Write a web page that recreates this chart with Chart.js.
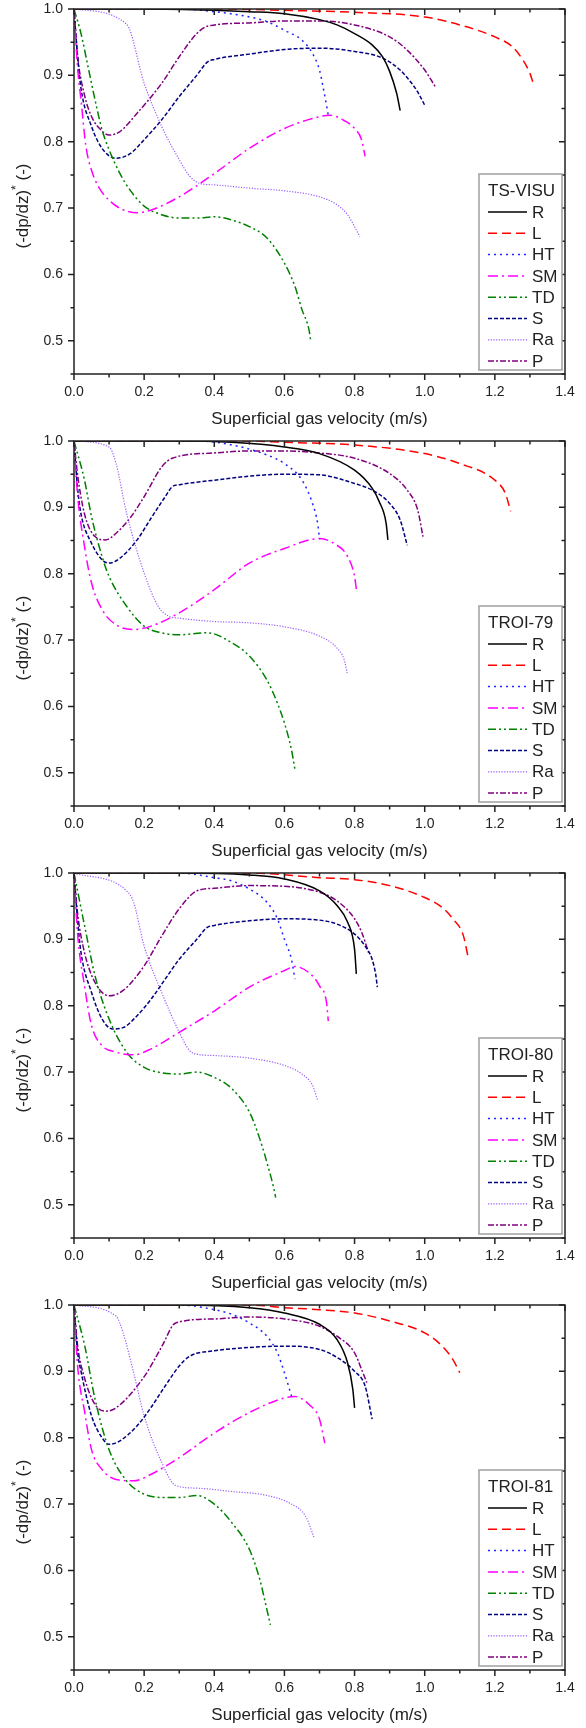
<!DOCTYPE html>
<html>
<head>
<meta charset="utf-8">
<script src="https://cdn.jsdelivr.net/npm/chart.js@4.4.1/dist/chart.umd.min.js"></script>
<style>
  body { margin: 0; background: #fff; }
  .panel { width: 586px; height: 432px; }
</style>
</head>
<body>
<div class="panel"><canvas id="c0" width="586" height="432"></canvas></div>
<div class="panel"><canvas id="c1" width="586" height="432"></canvas></div>
<div class="panel"><canvas id="c2" width="586" height="432"></canvas></div>
<div class="panel"><canvas id="c3" width="586" height="432"></canvas></div>
<script>
// series and panel names
const seriesNames = ['R', 'L', 'HT', 'SM', 'TD', 'S', 'Ra', 'P'];
const panelTitles = ['TS-VISU', 'TROI-79', 'TROI-80', 'TROI-81'];
const xTickVals = [0, 0.2, 0.4, 0.6, 0.8, 1.0, 1.2, 1.4];
const yTickVals = [0.5, 0.6, 0.7, 0.8, 0.9, 1.0];
const xTitle = 'Superficial gas velocity (m/s)';

// TS-VISU  [velocity, (-dp/dz)*]
const tsVisu_R = [[0,1],[0.2,1],[0.4,0.998],[0.5,0.996],[0.6,0.993],[0.7,0.984],[0.75,0.976],[0.8,0.963],[0.85,0.946],[0.88,0.928],[0.9,0.906],[0.92,0.873],[0.93,0.847]];
const tsVisu_L = [[0,1],[0.4,1],[0.6,0.998],[0.8,0.995],[1.0,0.988],[1.1,0.976],[1.2,0.958],[1.25,0.943],[1.28,0.923],[1.3,0.903],[1.31,0.887]];
const tsVisu_HT = [[0,1],[0.3,1],[0.4,0.996],[0.5,0.988],[0.55,0.981],[0.6,0.968],[0.65,0.953],[0.68,0.933],[0.7,0.908],[0.71,0.883],[0.72,0.855],[0.725,0.84]];
const tsVisu_SM = [[0,1],[0.01,0.913],[0.02,0.863],[0.034,0.793],[0.05,0.757],[0.07,0.732],[0.1,0.712],[0.13,0.7],[0.18,0.693],[0.22,0.697],[0.3,0.717],[0.4,0.752],[0.5,0.79],[0.6,0.82],[0.68,0.835],[0.73,0.84],[0.77,0.832],[0.8,0.82],[0.82,0.803],[0.83,0.778]];
const tsVisu_TD = [[0,1],[0.02,0.963],[0.04,0.913],[0.06,0.863],[0.08,0.818],[0.1,0.788],[0.13,0.753],[0.16,0.727],[0.2,0.703],[0.25,0.69],[0.3,0.685],[0.35,0.685],[0.4,0.687],[0.45,0.682],[0.5,0.672],[0.55,0.655],[0.6,0.617],[0.63,0.582],[0.65,0.547],[0.67,0.517],[0.675,0.5]];
const tsVisu_S = [[0,1],[0.01,0.93],[0.02,0.88],[0.05,0.823],[0.08,0.79],[0.12,0.775],[0.16,0.782],[0.2,0.803],[0.25,0.833],[0.3,0.868],[0.35,0.9],[0.38,0.92],[0.4,0.924],[0.5,0.932],[0.6,0.939],[0.7,0.941],[0.8,0.936],[0.88,0.926],[0.93,0.908],[0.96,0.89],[0.98,0.875],[1.0,0.855]];
const tsVisu_Ra = [[0,1],[0.15,0.977],[0.2,0.888],[0.25,0.823],[0.3,0.773],[0.33,0.748],[0.36,0.737],[0.4,0.735],[0.5,0.73],[0.6,0.726],[0.7,0.717],[0.75,0.705],[0.78,0.69],[0.8,0.672],[0.815,0.657]];
const tsVisu_P = [[0,1],[0.01,0.93],[0.03,0.87],[0.05,0.838],[0.08,0.816],[0.1,0.81],[0.13,0.815],[0.18,0.843],[0.25,0.888],[0.3,0.928],[0.35,0.963],[0.38,0.974],[0.5,0.979],[0.6,0.982],[0.7,0.982],[0.8,0.976],[0.9,0.958],[0.95,0.938],[1.0,0.908],[1.03,0.883]];

// TROI-79
const troi79_R = [[0,1],[0.3,1],[0.45,0.998],[0.6,0.991],[0.7,0.981],[0.8,0.956],[0.85,0.929],[0.87,0.909],[0.89,0.876],[0.895,0.851]];
const troi79_L = [[0,1],[0.5,1],[0.6,0.998],[0.8,0.994],[1.0,0.981],[1.1,0.966],[1.2,0.941],[1.23,0.921],[1.245,0.894]];
const troi79_HT = [[0,1],[0.35,1],[0.45,0.994],[0.55,0.979],[0.6,0.966],[0.65,0.941],[0.68,0.906],[0.695,0.875],[0.7,0.852]];
const troi79_SM = [[0,1],[0.01,0.92],[0.03,0.841],[0.05,0.786],[0.08,0.746],[0.12,0.723],[0.17,0.716],[0.22,0.721],[0.3,0.741],[0.4,0.776],[0.5,0.816],[0.6,0.838],[0.7,0.853],[0.74,0.846],[0.78,0.826],[0.8,0.796],[0.805,0.777]];
const troi79_TD = [[0,1],[0.03,0.941],[0.05,0.886],[0.08,0.826],[0.1,0.796],[0.15,0.751],[0.2,0.721],[0.25,0.711],[0.3,0.708],[0.38,0.711],[0.45,0.696],[0.5,0.676],[0.55,0.64],[0.58,0.605],[0.6,0.575],[0.62,0.535],[0.63,0.505]];
const troi79_S = [[0,1],[0.01,0.93],[0.02,0.89],[0.05,0.846],[0.08,0.821],[0.1,0.816],[0.13,0.823],[0.18,0.851],[0.22,0.884],[0.26,0.916],[0.28,0.931],[0.3,0.934],[0.4,0.941],[0.5,0.947],[0.6,0.95],[0.7,0.949],[0.8,0.936],[0.85,0.926],[0.9,0.906],[0.93,0.881],[0.95,0.843]];
const troi79_Ra = [[0,1],[0.1,0.991],[0.12,0.966],[0.15,0.891],[0.2,0.801],[0.24,0.751],[0.27,0.736],[0.3,0.733],[0.4,0.728],[0.5,0.726],[0.6,0.72],[0.7,0.706],[0.75,0.688],[0.77,0.671],[0.78,0.648]];
const troi79_P = [[0,1],[0.01,0.95],[0.03,0.89],[0.06,0.856],[0.09,0.851],[0.12,0.861],[0.16,0.884],[0.2,0.916],[0.25,0.961],[0.28,0.974],[0.4,0.982],[0.5,0.985],[0.6,0.985],[0.7,0.982],[0.8,0.974],[0.9,0.951],[0.95,0.926],[0.98,0.896],[0.995,0.856]];

// TROI-80
const troi80_R = [[0,1],[0.3,1],[0.5,0.997],[0.6,0.991],[0.7,0.973],[0.75,0.951],[0.78,0.926],[0.8,0.885],[0.805,0.848]];
const troi80_L = [[0,1],[0.5,1],[0.7,0.993],[0.8,0.99],[0.9,0.981],[1.0,0.963],[1.05,0.948],[1.08,0.931],[1.11,0.906],[1.125,0.87]];
const troi80_HT = [[0,1],[0.3,1],[0.4,0.993],[0.45,0.988],[0.5,0.976],[0.55,0.956],[0.58,0.931],[0.6,0.9],[0.62,0.87],[0.63,0.84]];
const troi80_SM = [[0,1],[0.01,0.91],[0.03,0.83],[0.05,0.77],[0.08,0.74],[0.12,0.73],[0.17,0.726],[0.22,0.735],[0.3,0.76],[0.4,0.792],[0.5,0.828],[0.6,0.853],[0.63,0.859],[0.68,0.845],[0.7,0.83],[0.72,0.805],[0.725,0.777]];
const troi80_TD = [[0,1],[0.03,0.921],[0.06,0.845],[0.1,0.78],[0.15,0.73],[0.2,0.707],[0.25,0.699],[0.3,0.697],[0.35,0.7],[0.4,0.692],[0.45,0.675],[0.5,0.64],[0.53,0.599],[0.55,0.564],[0.57,0.524],[0.575,0.511]];
const troi80_S = [[0,1],[0.01,0.93],[0.02,0.88],[0.05,0.82],[0.08,0.78],[0.11,0.765],[0.14,0.767],[0.18,0.785],[0.22,0.81],[0.26,0.84],[0.3,0.87],[0.35,0.9],[0.38,0.918],[0.4,0.921],[0.5,0.928],[0.6,0.931],[0.7,0.929],[0.75,0.923],[0.8,0.908],[0.83,0.89],[0.85,0.87],[0.86,0.848],[0.865,0.828]];
const troi80_Ra = [[0,1],[0.15,0.973],[0.17,0.956],[0.2,0.89],[0.25,0.82],[0.3,0.76],[0.33,0.732],[0.35,0.727],[0.4,0.725],[0.5,0.721],[0.6,0.71],[0.65,0.697],[0.68,0.68],[0.695,0.657]];
const troi80_P = [[0,1],[0.01,0.94],[0.03,0.88],[0.06,0.835],[0.1,0.815],[0.14,0.823],[0.2,0.86],[0.25,0.905],[0.3,0.946],[0.35,0.973],[0.4,0.977],[0.5,0.981],[0.6,0.98],[0.7,0.971],[0.75,0.958],[0.8,0.931],[0.82,0.911],[0.84,0.88]];

// TROI-81
const troi81_R = [[0,1],[0.3,1],[0.5,0.996],[0.6,0.988],[0.7,0.971],[0.75,0.948],[0.78,0.913],[0.795,0.873],[0.8,0.845]];
const troi81_L = [[0,1],[0.5,1],[0.6,0.996],[0.7,0.993],[0.8,0.988],[0.9,0.976],[1.0,0.958],[1.05,0.938],[1.08,0.918],[1.1,0.898]];
const troi81_HT = [[0,1],[0.3,1],[0.4,0.993],[0.45,0.986],[0.5,0.973],[0.55,0.953],[0.58,0.928],[0.6,0.898],[0.62,0.863]];
const troi81_SM = [[0,1],[0.01,0.91],[0.03,0.84],[0.05,0.782],[0.08,0.752],[0.12,0.737],[0.17,0.735],[0.22,0.745],[0.3,0.77],[0.4,0.807],[0.5,0.838],[0.6,0.86],[0.63,0.862],[0.67,0.85],[0.7,0.828],[0.715,0.792]];
const troi81_TD = [[0,1],[0.03,0.94],[0.06,0.858],[0.1,0.782],[0.15,0.735],[0.2,0.715],[0.25,0.71],[0.3,0.71],[0.35,0.713],[0.4,0.7],[0.45,0.672],[0.5,0.632],[0.53,0.586],[0.55,0.541],[0.56,0.518]];
const troi81_S = [[0,1],[0.01,0.93],[0.02,0.9],[0.05,0.833],[0.08,0.8],[0.1,0.79],[0.13,0.795],[0.18,0.818],[0.22,0.846],[0.26,0.878],[0.3,0.908],[0.33,0.923],[0.4,0.931],[0.5,0.936],[0.6,0.938],[0.7,0.933],[0.75,0.921],[0.8,0.9],[0.83,0.878],[0.85,0.828]];
const troi81_Ra = [[0,1],[0.12,0.983],[0.14,0.958],[0.17,0.898],[0.2,0.833],[0.25,0.763],[0.29,0.728],[0.35,0.724],[0.45,0.719],[0.55,0.713],[0.62,0.7],[0.66,0.682],[0.685,0.649]];
const troi81_P = [[0,1],[0.01,0.94],[0.03,0.89],[0.06,0.85],[0.09,0.84],[0.12,0.845],[0.2,0.892],[0.25,0.937],[0.29,0.973],[0.4,0.979],[0.5,0.982],[0.6,0.979],[0.7,0.968],[0.75,0.953],[0.8,0.928],[0.82,0.903],[0.835,0.883]];

const panelData = [
  [tsVisu_R, tsVisu_L, tsVisu_HT, tsVisu_SM, tsVisu_TD, tsVisu_S, tsVisu_Ra, tsVisu_P],
  [troi79_R, troi79_L, troi79_HT, troi79_SM, troi79_TD, troi79_S, troi79_Ra, troi79_P],
  [troi80_R, troi80_L, troi80_HT, troi80_SM, troi80_TD, troi80_S, troi80_Ra, troi80_P],
  [troi81_R, troi81_L, troi81_HT, troi81_SM, troi81_TD, troi81_S, troi81_Ra, troi81_P]
];

// line styles (Origin-like)
const lineColors = ['#000000', '#ff0000', '#2222ff', '#ff00ff', '#008000', '#000080', '#9b5cff', '#800080'];
const lineDashes = [[], [9, 5], [2, 4], [10, 4, 2, 4], [8, 3, 2, 3, 2, 3], [4, 2], [1.2, 1.5], [6, 2, 2, 2]];
const lineWidths = [1.5, 1.5, 1.5, 1.5, 1.5, 1.5, 1.2, 1.5];

const FONT = '"Liberation Sans", Arial, sans-serif';
const AXIS = '#222';

// frame with ticks on all four sides (outward left/bottom, inward top/right)
const framePlugin = {
  id: 'frame',
  afterDatasetsDraw(chart) {
    const {ctx, chartArea: a, scales: {x, y}} = chart;
    ctx.save();
    ctx.strokeStyle = AXIS;
    ctx.lineWidth = 1.5;
    ctx.setLineDash([]);
    ctx.strokeRect(a.left, a.top, a.right - a.left, a.bottom - a.top);
    ctx.beginPath();
    for (let i = 0; i <= 14; i++) {
      const px = x.getPixelForValue(i / 10);
      const len = i % 2 === 0 ? 6 : 3.5;
      ctx.moveTo(px, a.bottom); ctx.lineTo(px, a.bottom + len);
      ctx.moveTo(px, a.top); ctx.lineTo(px, a.top + len);
    }
    for (let i = 9; i <= 20; i++) {
      const py = y.getPixelForValue(i / 20);
      const len = i % 2 === 0 ? 6 : 3.5;
      ctx.moveTo(a.left, py); ctx.lineTo(a.left - len, py);
      ctx.moveTo(a.right, py); ctx.lineTo(a.right - len, py);
    }
    ctx.stroke();
    ctx.restore();
  },
  afterDraw(chart, args, opts) {
    const {ctx, chartArea: a} = chart;
    ctx.save();
    // y axis title with superscript star
    ctx.fillStyle = AXIS;
    ctx.translate(23, a.top + 197);
    ctx.rotate(-Math.PI / 2);
    ctx.textBaseline = 'middle';
    ctx.font = '17px ' + FONT;
    const t1 = '(-dp/dz)', t3 = ' (-)';
    const w1 = ctx.measureText(t1).width;
    const w3 = ctx.measureText(t3).width;
    ctx.font = '12px ' + FONT;
    const w2 = ctx.measureText('*').width;
    const sx = -(w1 + w2 + w3) / 2;
    ctx.font = '17px ' + FONT;
    ctx.fillText(t1, sx, 0);
    ctx.font = '12px ' + FONT;
    ctx.fillText('*', sx + w1, -6);
    ctx.font = '17px ' + FONT;
    ctx.fillText(t3, sx + w1 + w2, 0);
    ctx.restore();

    // legend box
    ctx.save();
    const left = 479, right = a.right - 3;
    const top = a.top + 165, bottom = a.bottom - 4;
    ctx.fillStyle = '#fff';
    ctx.fillRect(left, top, right - left, bottom - top);
    ctx.strokeStyle = '#a0a0a0';
    ctx.lineWidth = 1.5;
    ctx.strokeRect(left, top, right - left, bottom - top);
    ctx.fillStyle = AXIS;
    ctx.font = '17px ' + FONT;
    ctx.textBaseline = 'middle';
    ctx.textAlign = 'left';
    ctx.fillText(opts.title, left + 9, top + 17);
    chart.data.datasets.forEach((ds, i) => {
      const yy = top + 38 + i * 21.3;
      ctx.strokeStyle = ds.borderColor;
      ctx.lineWidth = ds.borderWidth;
      ctx.setLineDash(ds.borderDash);
      ctx.beginPath();
      ctx.moveTo(left + 9, yy);
      ctx.lineTo(left + 48, yy);
      ctx.stroke();
      ctx.fillStyle = AXIS;
      ctx.fillText(ds.label, left + 53, yy + 1);
    });
    ctx.restore();
  }
};

panelData.forEach((series, p) => {
  const datasets = series.map((pts, i) => ({
    label: seriesNames[i],
    data: pts,
    borderColor: lineColors[i],
    borderDash: lineDashes[i],
    borderWidth: lineWidths[i],
    pointRadius: 0,
    fill: false,
    cubicInterpolationMode: 'monotone'
  }));

  new Chart(document.getElementById('c' + p).getContext('2d'), {
    type: 'line',
    data: { datasets },
    plugins: [framePlugin],
    options: {
      responsive: false,
      animation: false,
      layout: { padding: { top: 0, right: 21, left: 0, bottom: 0 } },
      plugins: {
        legend: { display: false },
        tooltip: { enabled: false },
        frame: { title: panelTitles[p] }
      },
      scales: {
        x: {
          type: 'linear',
          min: 0,
          max: 1.4,
          grid: { display: false, drawTicks: false },
          border: { display: false },
          afterBuildTicks: s => { s.ticks = xTickVals.map(v => ({ value: v })); },
          afterFit: s => { s.height = 58; s.paddingLeft = 0; s.paddingRight = 0; },
          ticks: {
            padding: 10,
            autoSkip: false,
            maxRotation: 0,
            color: AXIS,
            font: { family: FONT, size: 14 },
            callback: v => Number(v).toFixed(1)
          },
          title: {
            display: true,
            text: xTitle,
            color: AXIS,
            font: { family: FONT, size: 17 },
            padding: { top: 0, bottom: 2 }
          }
        },
        y: {
          type: 'linear',
          min: 0.45,
          max: 1.0,
          grid: { display: false, drawTicks: false },
          border: { display: false },
          afterBuildTicks: s => { s.ticks = yTickVals.map(v => ({ value: v })); },
          afterFit: s => { s.width = 74; s.paddingTop = 9; s.paddingBottom = 0; },
          ticks: {
            padding: 11,
            autoSkip: false,
            color: AXIS,
            font: { family: FONT, size: 14 },
            callback: v => Number(v).toFixed(1)
          }
        }
      }
    }
  });
});
</script>
</body>
</html>
